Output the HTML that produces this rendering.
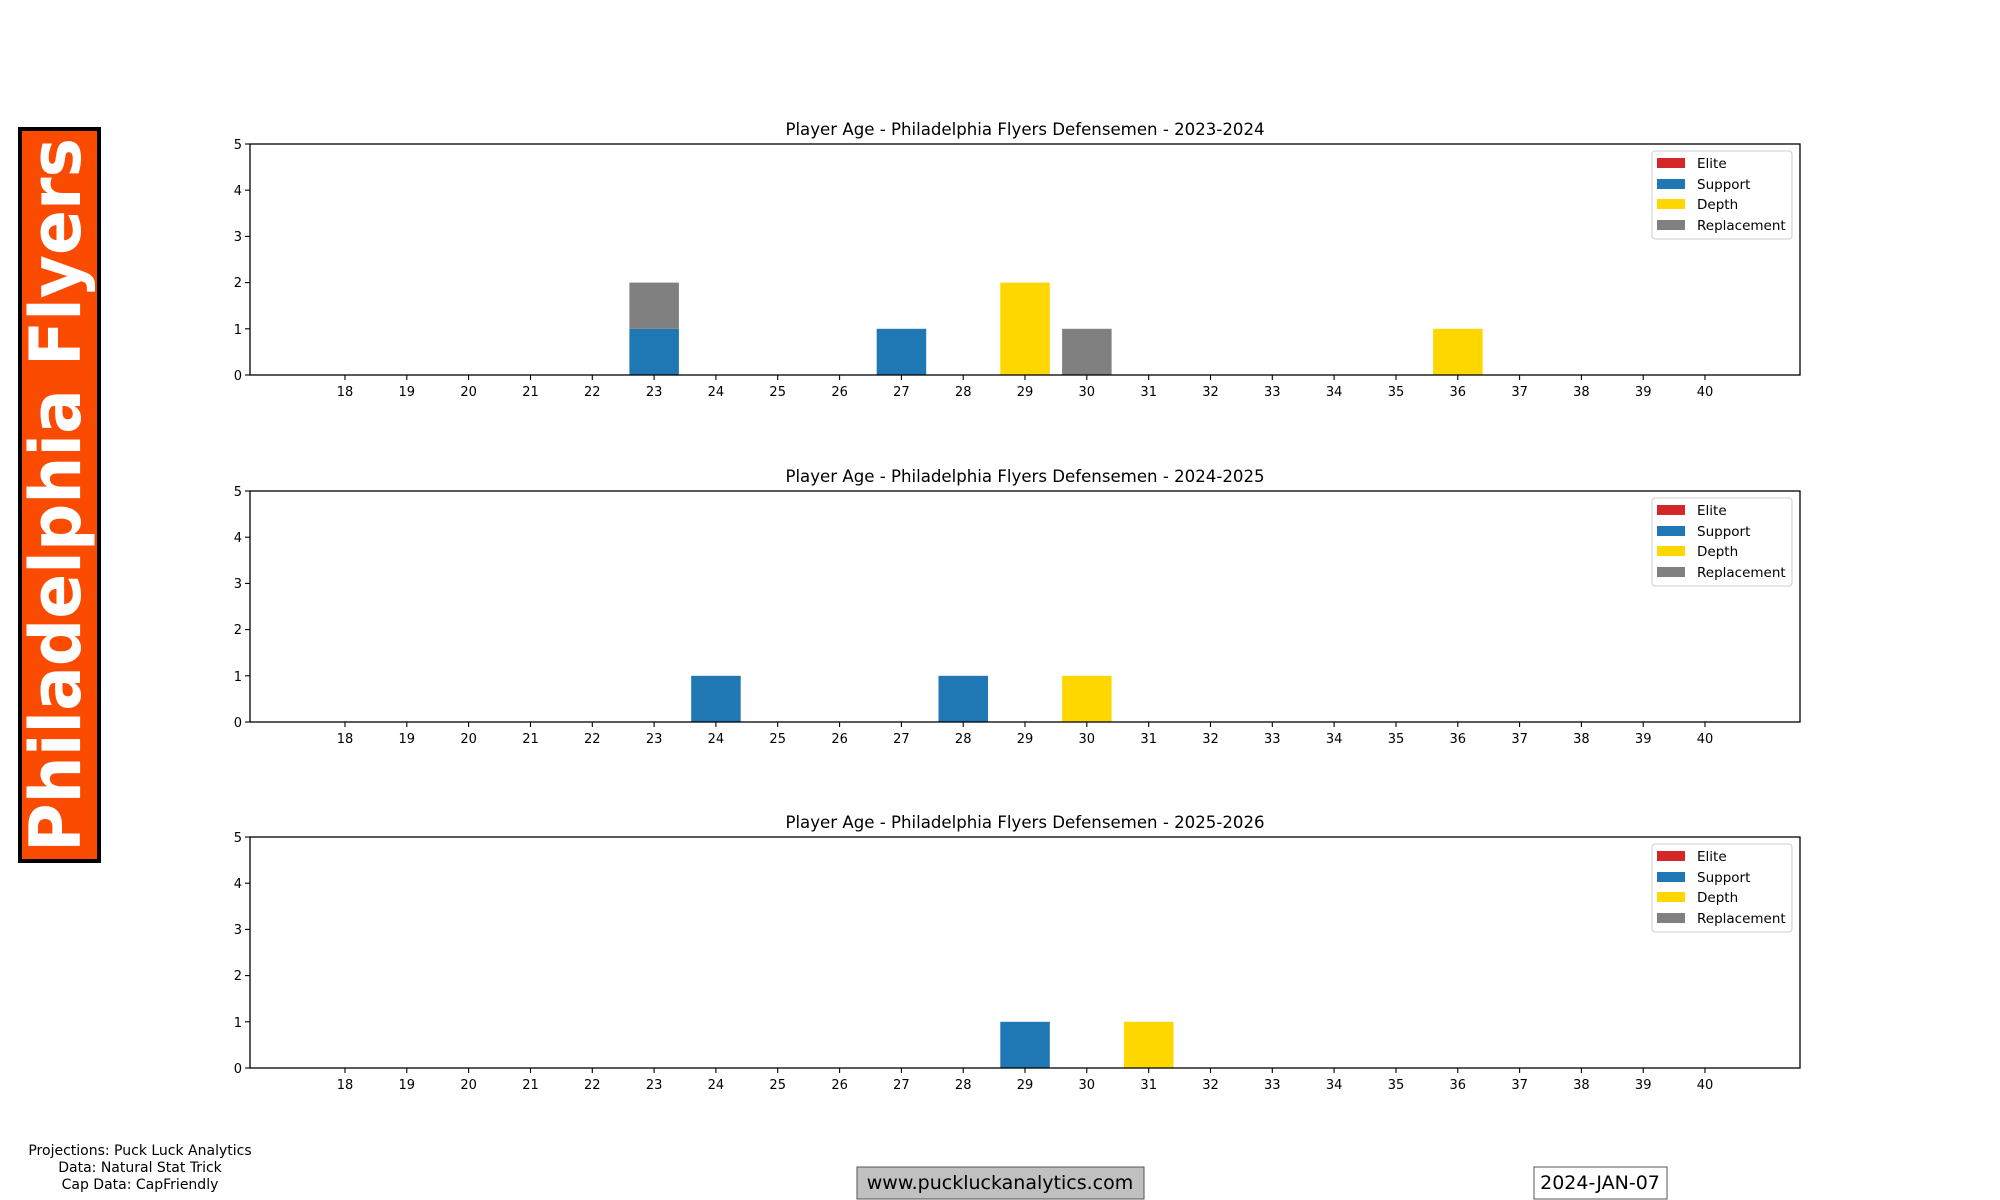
<!DOCTYPE html>
<html><head><meta charset="utf-8"><style>
html,body{margin:0;padding:0;background:#fff;width:2000px;height:1200px;overflow:hidden}
svg{display:block}
text{font-family:"DejaVu Sans","Liberation Sans",sans-serif;fill:#000}
</style></head><body>
<svg width="2000" height="1200" viewBox="0 0 2000 1200" xmlns="http://www.w3.org/2000/svg">
<defs>
<g id="ax">
<rect x="0" y="0" width="1550" height="231" fill="none" stroke="#000" stroke-width="1.3"/>
<g stroke="#000" stroke-width="1.1">
<line x1="95" y1="231" x2="95" y2="236"/><line x1="156.8" y1="231" x2="156.8" y2="236"/><line x1="218.6" y1="231" x2="218.6" y2="236"/><line x1="280.5" y1="231" x2="280.5" y2="236"/><line x1="342.3" y1="231" x2="342.3" y2="236"/><line x1="404.1" y1="231" x2="404.1" y2="236"/><line x1="465.9" y1="231" x2="465.9" y2="236"/><line x1="527.7" y1="231" x2="527.7" y2="236"/><line x1="589.6" y1="231" x2="589.6" y2="236"/><line x1="651.4" y1="231" x2="651.4" y2="236"/><line x1="713.2" y1="231" x2="713.2" y2="236"/><line x1="775" y1="231" x2="775" y2="236"/><line x1="836.8" y1="231" x2="836.8" y2="236"/><line x1="898.7" y1="231" x2="898.7" y2="236"/><line x1="960.5" y1="231" x2="960.5" y2="236"/><line x1="1022.3" y1="231" x2="1022.3" y2="236"/><line x1="1084.1" y1="231" x2="1084.1" y2="236"/><line x1="1146" y1="231" x2="1146" y2="236"/><line x1="1207.8" y1="231" x2="1207.8" y2="236"/><line x1="1269.6" y1="231" x2="1269.6" y2="236"/><line x1="1331.4" y1="231" x2="1331.4" y2="236"/><line x1="1393.2" y1="231" x2="1393.2" y2="236"/><line x1="1455" y1="231" x2="1455" y2="236"/>
<line x1="0" y1="0" x2="-5" y2="0"/><line x1="0" y1="46.2" x2="-5" y2="46.2"/><line x1="0" y1="92.4" x2="-5" y2="92.4"/><line x1="0" y1="138.6" x2="-5" y2="138.6"/><line x1="0" y1="184.8" x2="-5" y2="184.8"/><line x1="0" y1="231" x2="-5" y2="231"/>
</g>
<g font-size="13" text-anchor="middle">
<text x="95" y="252">18</text><text x="156.8" y="252">19</text><text x="218.6" y="252">20</text><text x="280.5" y="252">21</text><text x="342.3" y="252">22</text><text x="404.1" y="252">23</text><text x="465.9" y="252">24</text><text x="527.7" y="252">25</text><text x="589.6" y="252">26</text><text x="651.4" y="252">27</text><text x="713.2" y="252">28</text><text x="775" y="252">29</text><text x="836.8" y="252">30</text><text x="898.7" y="252">31</text><text x="960.5" y="252">32</text><text x="1022.3" y="252">33</text><text x="1084.1" y="252">34</text><text x="1146" y="252">35</text><text x="1207.8" y="252">36</text><text x="1269.6" y="252">37</text><text x="1331.4" y="252">38</text><text x="1393.2" y="252">39</text><text x="1455" y="252">40</text>
</g>
<g font-size="13" text-anchor="end">
<text x="-8" y="5">5</text><text x="-8" y="51">4</text><text x="-8" y="97">3</text><text x="-8" y="143">2</text><text x="-8" y="190">1</text><text x="-8" y="236">0</text>
</g>
<rect x="1402" y="7" width="140" height="88" rx="3" fill="#fff" fill-opacity="0.8" stroke="#ccc" stroke-width="1"/>
<rect x="1407" y="14" width="28" height="10" fill="#d62728"/>
<rect x="1407" y="35" width="28" height="10" fill="#1f77b4"/>
<rect x="1407" y="55" width="28" height="10" fill="#ffd700"/>
<rect x="1407" y="76" width="28" height="10" fill="#808080"/>
<g font-size="13.5"><text x="1447" y="24">Elite</text><text x="1447" y="45">Support</text><text x="1447" y="65">Depth</text><text x="1447" y="86">Replacement</text></g>
</g>
</defs>

<rect x="20" y="129" width="79" height="732" fill="#fa4b00" stroke="#000" stroke-width="4"/>
<text transform="translate(80,852) rotate(-90)" font-size="70" font-weight="bold" fill="#fff" style="fill:#fff" textLength="714" lengthAdjust="spacingAndGlyphs">Philadelphia Flyers</text>

<g transform="translate(250,144)">
<rect x="379.4" y="184.8" width="49.5" height="46.2" fill="#1f77b4"/>
<rect x="379.4" y="138.6" width="49.5" height="46.2" fill="#808080"/>
<rect x="626.7" y="184.8" width="49.5" height="46.2" fill="#1f77b4"/>
<rect x="750.3" y="138.6" width="49.5" height="92.4" fill="#ffd700"/>
<rect x="812.1" y="184.8" width="49.5" height="46.2" fill="#808080"/>
<rect x="1183.1" y="184.8" width="49.5" height="46.2" fill="#ffd700"/>
<use href="#ax"/>
<text x="775" y="-9" font-size="16.6" text-anchor="middle">Player Age - Philadelphia Flyers Defensemen - 2023-2024</text>
</g>
<g transform="translate(250,491)">
<rect x="441.2" y="184.8" width="49.5" height="46.2" fill="#1f77b4"/>
<rect x="688.5" y="184.8" width="49.5" height="46.2" fill="#1f77b4"/>
<rect x="812.1" y="184.8" width="49.5" height="46.2" fill="#ffd700"/>
<use href="#ax"/>
<text x="775" y="-9" font-size="16.6" text-anchor="middle">Player Age - Philadelphia Flyers Defensemen - 2024-2025</text>
</g>
<g transform="translate(250,837)">
<rect x="750.3" y="184.8" width="49.5" height="46.2" fill="#1f77b4"/>
<rect x="874" y="184.8" width="49.5" height="46.2" fill="#ffd700"/>
<use href="#ax"/>
<text x="775" y="-9" font-size="16.6" text-anchor="middle">Player Age - Philadelphia Flyers Defensemen - 2025-2026</text>
</g>

<g font-size="14" text-anchor="middle">
<text x="140" y="1155">Projections: Puck Luck Analytics</text>
<text x="140" y="1172">Data: Natural Stat Trick</text>
<text x="140" y="1189">Cap Data: CapFriendly</text>
</g>
<rect x="857" y="1167" width="287" height="32" fill="#c0c0c0" stroke="#555" stroke-width="1"/>
<text x="1000" y="1189" font-size="19" text-anchor="middle">www.puckluckanalytics.com</text>
<rect x="1534" y="1167" width="133" height="32" fill="#fff" stroke="#555" stroke-width="1"/>
<text x="1600" y="1189" font-size="19" text-anchor="middle">2024-JAN-07</text>
</svg>
</body></html>
